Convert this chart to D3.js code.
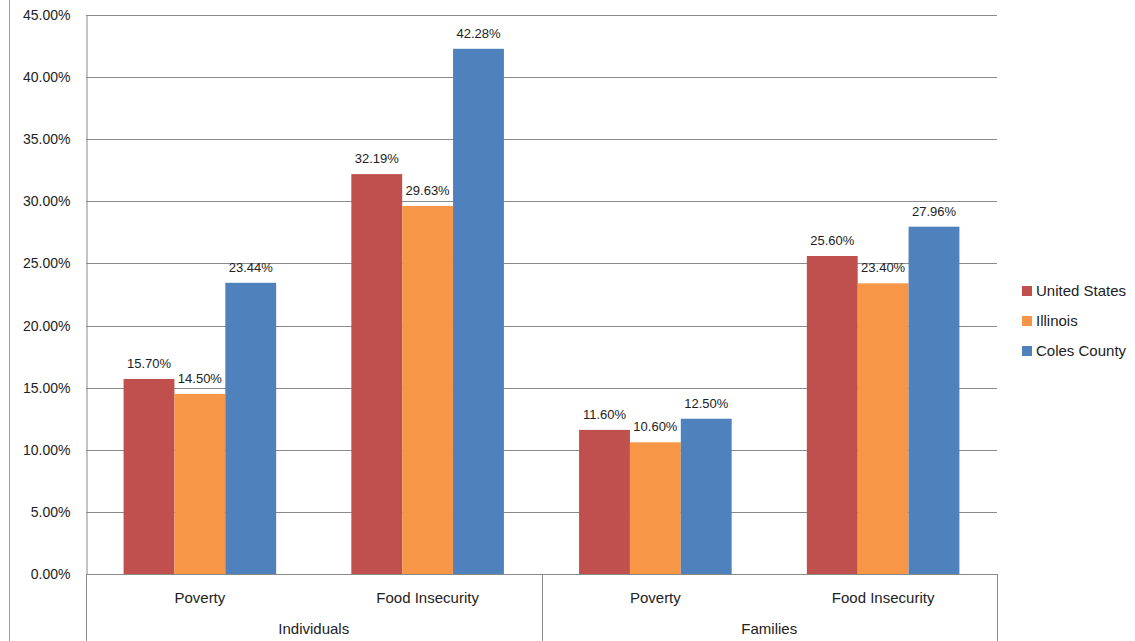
<!DOCTYPE html>
<html>
<head>
<meta charset="utf-8">
<script src="https://cdn.jsdelivr.net/npm/d3@7"></script>
<style>
  html, body { margin: 0; padding: 0; background: #fff; }
  svg { display: block; font-family: "Liberation Sans", Arial, sans-serif; }
</style>
</head>
<body>
<svg id="chart" width="1135" height="641"></svg>
<script>
// ---- data ----
const groups = ["Individuals", "Families"];
const categories = ["Poverty", "Food Insecurity", "Poverty", "Food Insecurity"];
const categoryGroup = [0, 0, 1, 1];
const seriesNames = ["United States", "Illinois", "Coles County"];
const unitedStates = [0.1570, 0.3219, 0.1160, 0.2560];
const illinois     = [0.1450, 0.2963, 0.1060, 0.2340];
const colesCounty  = [0.2344, 0.4228, 0.1250, 0.2796];
const yTicks = [0, 0.05, 0.10, 0.15, 0.20, 0.25, 0.30, 0.35, 0.40, 0.45];
const colors = ["#C0504D", "#F79646", "#4F81BD"];

const seriesValues = [unitedStates, illinois, colesCounty];

// ---- layout ----
const svg = d3.select("#chart");
const plot = { left: 86, right: 997, top: 15, bottom: 574 };
const gridColor = "#8a8a8a";
const textColor = "#222";

const x0 = d3.scaleBand()
  .domain(d3.range(categories.length))
  .range([plot.left, plot.right])
  .paddingInner(0.33)
  .paddingOuter(0.165);
const x1 = d3.scaleBand()
  .domain(d3.range(seriesNames.length))
  .range([0, x0.bandwidth()])
  .padding(0);
const y = d3.scaleLinear().domain([0, 0.45]).range([plot.bottom, plot.top]);
const step = x0.step();

// left chart border line
svg.append("line")
  .attr("x1", 9.5).attr("x2", 9.5).attr("y1", 0).attr("y2", 641)
  .attr("stroke", "#a0a0a0").attr("stroke-width", 1);

// gridlines
svg.append("g").selectAll("line").data(yTicks.filter(d => d > 0)).join("line")
  .attr("x1", plot.left).attr("x2", plot.right)
  .attr("y1", d => Math.round(y(d)) + 0.5).attr("y2", d => Math.round(y(d)) + 0.5)
  .attr("stroke", gridColor).attr("stroke-width", 1);

// y axis
const yAxis = d3.axisLeft(y).tickValues(yTicks).tickSize(0).tickPadding(16)
  .tickFormat(d => (d * 100).toFixed(2) + "%");
const gy = svg.append("g").attr("transform", `translate(${plot.left + 0.5},0)`).call(yAxis);
gy.select(".domain").attr("stroke", gridColor);
gy.selectAll("text").attr("fill", textColor).attr("font-size", 14)
  .attr("font-family", "Liberation Sans, Arial, sans-serif");

// bars
seriesValues.forEach((vals, si) => {
  svg.append("g").selectAll("rect").data(vals).join("rect")
    .attr("x", (d, i) => x0(i) + x1(si))
    .attr("width", x1.bandwidth())
    .attr("y", d => y(d))
    .attr("height", d => y(0) - y(d))
    .attr("fill", colors[si]);
  svg.append("g").selectAll("text").data(vals).join("text")
    .attr("x", (d, i) => x0(i) + x1(si) + x1.bandwidth() / 2)
    .attr("y", d => y(d) - 11)
    .attr("text-anchor", "middle")
    .attr("font-size", 13)
    .attr("fill", textColor)
    .text(d => (d * 100).toFixed(2) + "%");
});

// x axis line
svg.append("line")
  .attr("x1", plot.left).attr("x2", plot.right)
  .attr("y1", plot.bottom + 0.5).attr("y2", plot.bottom + 0.5)
  .attr("stroke", gridColor);

// group separators
const sepX = [plot.left, plot.left + 2 * step, plot.right];
svg.append("g").selectAll("line").data(sepX).join("line")
  .attr("x1", d => Math.round(d) + 0.5).attr("x2", d => Math.round(d) + 0.5)
  .attr("y1", plot.bottom).attr("y2", 641)
  .attr("stroke", gridColor);

// category labels
svg.append("g").selectAll("text").data(categories).join("text")
  .attr("x", (d, i) => x0(i) + x0.bandwidth() / 2)
  .attr("y", 602.5)
  .attr("text-anchor", "middle")
  .attr("font-size", 15)
  .attr("fill", textColor)
  .text(d => d);

// group labels
svg.append("g").selectAll("text").data(groups).join("text")
  .attr("x", (d, gi) => {
    const idx = categoryGroup.map((g, i) => g === gi ? i : -1).filter(i => i >= 0);
    return (x0(idx[0]) + x0(idx[idx.length - 1]) + x0.bandwidth()) / 2;
  })
  .attr("y", 633.5)
  .attr("text-anchor", "middle")
  .attr("font-size", 15)
  .attr("fill", textColor)
  .text(d => d);

// legend
const legend = svg.append("g").attr("transform", "translate(1022,291)");
const items = legend.selectAll("g").data(seriesNames).join("g")
  .attr("transform", (d, i) => `translate(0,${i * 30})`);
items.append("rect").attr("x", 0).attr("y", -5).attr("width", 10).attr("height", 10)
  .attr("fill", (d, i) => colors[i]);
items.append("text").attr("x", 14).attr("y", 0).attr("dy", "0.35em")
  .attr("font-size", 15).attr("fill", textColor).text(d => d);
</script>
</body>
</html>
